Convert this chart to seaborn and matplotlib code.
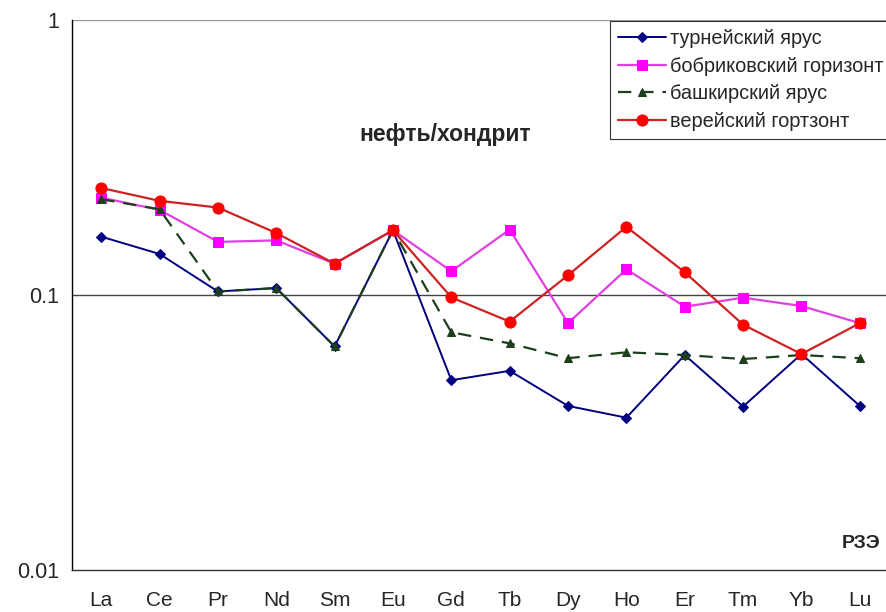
import matplotlib
matplotlib.use("Agg")
import matplotlib.pyplot as plt
import seaborn as sns
import pandas as pd

elements = ["La", "Ce", "Pr", "Nd", "Sm", "Eu", "Gd", "Tb", "Dy", "Ho", "Er", "Tm", "Yb", "Lu"]

turnei = [0.163, 0.141, 0.103, 0.106, 0.065, 0.172, 0.049, 0.053, 0.0395, 0.0358, 0.0605, 0.0393, 0.061, 0.0395]
bobrik = [0.226, 0.204, 0.156, 0.158, 0.130, 0.172, 0.122, 0.173, 0.079, 0.124, 0.0907, 0.0978, 0.0912, 0.079]
bashkir = [0.223, 0.205, 0.103, 0.106, 0.065, 0.172, 0.0732, 0.0667, 0.0589, 0.0619, 0.0605, 0.0585, 0.0605, 0.0589]
verei = [0.245, 0.220, 0.208, 0.168, 0.130, 0.172, 0.098, 0.080, 0.118, 0.177, 0.121, 0.078, 0.061, 0.079]

series_names = ["турнейский ярус", "бобриковский горизонт", "башкирский ярус", "верейский гортзонт"]
series_values = [turnei, bobrik, bashkir, verei]

y_ticks = [0.01, 0.1, 1]
y_tick_labels = ["0.01", "0.1", "1"]

rows = []
for name, vals in zip(series_names, series_values):
    for el, v in zip(elements, vals):
        rows.append({"element": el, "value": v, "series": name})
df = pd.DataFrame(rows)

sns.set_style("white")
plt.rcParams["font.family"] = ["Liberation Sans", "DejaVu Sans"]

fig = plt.figure(figsize=(8.86, 6.12), dpi=100)
ax = fig.add_axes([72 / 886, 1 - 570 / 612, 817 / 886, 550 / 612])

styles = {
    "турнейский ярус": dict(color="#000080", marker="D", markersize=5, mfc="#000080", mec="#000080",
                             linewidth=1.4),
    "бобриковский горизонт": dict(color="#e040e0", marker="s", markersize=7, mfc="#ff00ff", mec="#ff00ff",
                                   linewidth=1.6),
    "башкирский ярус": dict(color="#1c3f1c", marker="^", markersize=6, mfc="#1c3f1c", mec="#1c3f1c",
                             linewidth=1.6, linestyle=(0, (6, 4))),
    "верейский гортзонт": dict(color="#cc2222", marker="o", markersize=8, mfc="#ff0000", mec="#ff0000",
                                linewidth=1.6),
}

for name in series_names:
    st = dict(styles[name])
    ls = st.pop("linestyle", "-")
    sub = df[df["series"] == name]
    sns.lineplot(data=sub, x="element", y="value", ax=ax, sort=False, label=name,
                 color=st["color"], marker=st["marker"], markersize=st["markersize"],
                 markerfacecolor=st["mfc"], markeredgecolor=st["mec"],
                 linewidth=st["linewidth"], linestyle=ls)

ax.set_yscale("log")
ax.set_ylim(0.01, 1)
ax.set_xlim(-0.5, len(elements) - 0.5)
ax.set_yticks(y_ticks)
ax.set_yticklabels(y_tick_labels, fontsize=15.5)
ax.yaxis.set_minor_locator(matplotlib.ticker.NullLocator())

ax.set_xticks(range(len(elements)))
ax.set_xticklabels(elements, fontsize=15)
ax.tick_params(axis="x", which="major", length=0, pad=15)
# category boundary ticks
ax.set_xticks([i + 0.5 for i in range(-1, len(elements))], minor=True)
ax.tick_params(axis="x", which="minor", length=5, width=0.8, color="#555555", direction="out")
ax.tick_params(axis="y", which="major", length=5, width=1, color="black", direction="out", pad=4.5)

ax.grid(False)
for yv in [0.1, 1]:
    ax.axhline(yv, color="#444444" if yv == 0.1 else "#999999", linewidth=1, zorder=0)

for side in ["top", "right"]:
    ax.spines[side].set_visible(False)
ax.spines["left"].set_color("black")
ax.spines["left"].set_linewidth(1)
ax.spines["bottom"].set_color("#333333")
ax.spines["bottom"].set_linewidth(1)

ax.set_xlabel("")
ax.set_ylabel("")

fig.text(445 / 886, 1 - 135 / 612, "нефть/хондрит", fontsize=16.5, fontweight="bold",
         ha="center", va="center")
fig.text(861 / 886, 1 - 543 / 612, "РЗЭ", fontsize=14, fontweight="bold",
         ha="center", va="center")

leg = ax.legend(loc="upper left", bbox_to_anchor=(610 / 886, 1 - 21 / 612),
                bbox_transform=fig.transFigure, fontsize=14.4, frameon=True, fancybox=False,
                edgecolor="black", borderaxespad=0, handlelength=2.4, handletextpad=0.2,
                labelspacing=0.42, borderpad=0.42)
leg.get_frame().set_linewidth(0.8)

fig.savefig("out.png", dpi=100)
